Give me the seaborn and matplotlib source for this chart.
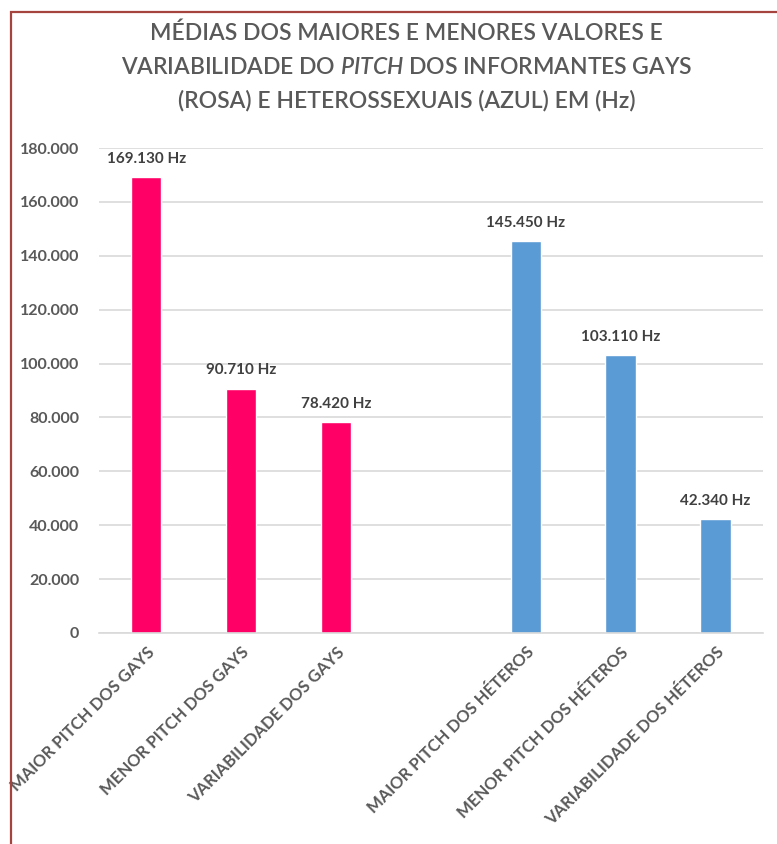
import pandas as pd
import matplotlib.pyplot as plt
import seaborn as sns
from matplotlib.patches import Rectangle
from matplotlib.ticker import FuncFormatter

# dados (Hz)
categorias = ["MAIOR PITCH DOS GAYS", "MENOR PITCH DOS GAYS", "VARIABILIDADE DOS GAYS",
              "MAIOR PITCH DOS HÉTEROS", "MENOR PITCH DOS HÉTEROS", "VARIABILIDADE DOS HÉTEROS"]
valores = [169.130, 90.710, 78.420, 145.450, 103.110, 42.340]
grupos = ["Gays", "Gays", "Gays", "Héteros", "Héteros", "Héteros"]
ordem = categorias[:3] + [" "] + categorias[3:]
cores = {"Gays": "#FF0066", "Héteros": "#5B9BD5"}
yticks = [0, 20, 40, 60, 80, 100, 120, 140, 160, 180]

sns.set_style("white")
plt.rcParams["font.family"] = ["Lato", "DejaVu Sans"]
plt.rcParams["mathtext.fontset"] = "custom"
plt.rcParams["mathtext.rm"] = "Lato:semibold"
plt.rcParams["mathtext.it"] = "Lato:italic:semibold"

df = pd.DataFrame({"categoria": categorias, "valor": valores, "grupo": grupos})

fig = plt.figure(figsize=(7.77, 8.44), dpi=100)
ax = fig.add_axes([0.127, 0.25, 0.855, 0.5746])

sns.barplot(data=df, x="categoria", y="valor", hue="grupo", order=ordem,
            palette=cores, dodge=False, width=0.32, saturation=1, legend=False, ax=ax)

for c in ax.containers:
    ax.bar_label(c, fmt="{:.3f} Hz", padding=8, fontsize=11, fontweight="bold",
                 color="#404040")

ax.set_ylim(0, 180)
ax.set_yticks(yticks)
ax.yaxis.set_major_formatter(FuncFormatter(lambda v, p: "0" if v == 0 else f"{v:.3f}"))
ax.grid(axis="y", color="#D9D9D9", lw=1.2)
ax.set_axisbelow(True)
sns.despine(ax=ax, left=True, top=True, right=True)
ax.spines["bottom"].set_color("#D9D9D9")
ax.spines["bottom"].set_linewidth(1.2)
ax.tick_params(axis="y", length=0, pad=14, labelsize=11.5, labelcolor="#595959")
ax.tick_params(axis="x", length=0, pad=8, labelsize=12, labelcolor="#595959")
plt.setp(ax.get_yticklabels(), fontweight="bold")
plt.setp(ax.get_xticklabels(), rotation=45, ha="right", rotation_mode="anchor",
         fontweight="bold")
ax.set_xlabel("")
ax.set_ylabel("")

titulo = ["MÉDIAS DOS MAIORES E MENORES VALORES E",
          r"VARIABILIDADE DO $\mathit{PITCH}$ DOS INFORMANTES GAYS",
          "(ROSA) E HETEROSSEXUAIS (AZUL) EM (Hz)"]
for i, linha in enumerate(titulo):
    fig.text(0.523, 1 - (33 + 34 * i) / 844, linha, ha="center", va="center",
             fontsize=16.5, fontweight="semibold", color="#595959")

# moldura vermelha da figura original
fig.patches.append(Rectangle((11 / 777, -0.1), 1.2, 1.1 - 12 / 844, transform=fig.transFigure,
                             fill=False, ec="#A5443F", lw=1.6))

fig.savefig("out.png", dpi=100)
